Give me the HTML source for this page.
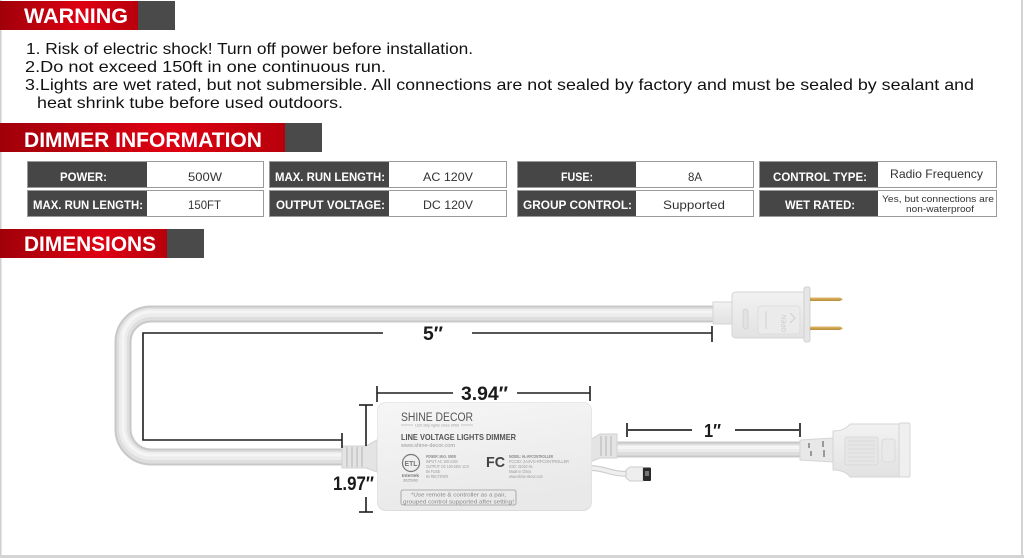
<!DOCTYPE html>
<html><head><meta charset="utf-8"><style>
html,body{margin:0;padding:0;background:#fff;}
body{width:1024px;height:558px;overflow:hidden;position:relative;}
svg{position:absolute;left:0;top:0;}
text{font-family:"Liberation Sans",Arial,sans-serif;}
</style></head><body>
<svg width="1024" height="558" viewBox="0 0 1024 558" xmlns="http://www.w3.org/2000/svg">
<defs>
<linearGradient id="red" x1="0" x2="1" y1="0" y2="0">
<stop offset="0" stop-color="#a0000a"/><stop offset="0.6" stop-color="#de0012"/><stop offset="1" stop-color="#b8000c"/>
</linearGradient>
<linearGradient id="box" x1="0" x2="0.3" y1="0" y2="1">
<stop offset="0" stop-color="#f6f6f6"/><stop offset="1" stop-color="#e9e9e9"/>
</linearGradient>
<linearGradient id="plug" x1="0" x2="0" y1="0" y2="1">
<stop offset="0" stop-color="#f2f2f2"/><stop offset="1" stop-color="#e2e2e2"/>
</linearGradient>
<linearGradient id="gold" x1="0" x2="0" y1="0" y2="1">
<stop offset="0" stop-color="#e0bb6a"/><stop offset="1" stop-color="#b88a3a"/>
</linearGradient>
</defs>

<!-- page borders -->
<rect x="0" y="0" width="1.5" height="558" fill="#cfcfcf"/>
<rect x="1021" y="0" width="2" height="558" fill="#d4d4d4"/>
<rect x="0" y="555" width="1024" height="3" fill="#d4d4d4"/>

<!-- WARNING banner -->
<rect x="0" y="1" width="138" height="29" fill="url(#red)"/>
<rect x="138" y="1" width="37" height="29" fill="#4a4a4a"/>
<text x="24" y="23" font-size="21" font-weight="bold" fill="#fff" textLength="104" lengthAdjust="spacingAndGlyphs">WARNING</text>

<g font-size="16" fill="#111">
<text x="26" y="54" textLength="447" lengthAdjust="spacingAndGlyphs">1. Risk of electric shock! Turn off power before installation.</text>
<text x="25" y="72" textLength="361" lengthAdjust="spacingAndGlyphs">2.Do not exceed 150ft in one continuous run.</text>
<text x="25" y="90" textLength="949" lengthAdjust="spacingAndGlyphs">3.Lights are wet rated, but not submersible. All connections are not sealed by factory and must be sealed by sealant and</text>
<text x="37" y="108" textLength="306" lengthAdjust="spacingAndGlyphs">heat shrink tube before used outdoors.</text>
</g>

<!-- DIMMER INFORMATION banner -->
<rect x="0" y="123" width="285" height="29" fill="url(#red)"/>
<rect x="285" y="123" width="37" height="29" fill="#4a4a4a"/>
<text x="24" y="147" font-size="21" font-weight="bold" fill="#fff" textLength="238" lengthAdjust="spacingAndGlyphs">DIMMER INFORMATION</text>

<!-- table -->
<g stroke="#9a9a9a" stroke-width="1">
<rect x="27.5" y="161.5" width="236" height="26" fill="#fff"/>
<rect x="27.5" y="190.5" width="236" height="26" fill="#fff"/>
<rect x="269.5" y="161.5" width="237" height="26" fill="#fff"/>
<rect x="269.5" y="190.5" width="237" height="26" fill="#fff"/>
<rect x="517.5" y="161.5" width="236" height="26" fill="#fff"/>
<rect x="517.5" y="190.5" width="236" height="26" fill="#fff"/>
<rect x="759.5" y="161.5" width="237" height="26" fill="#fff"/>
<rect x="759.5" y="190.5" width="237" height="26" fill="#fff"/>
</g>
<g fill="#464646">
<rect x="28" y="162" width="119" height="25"/>
<rect x="28" y="191" width="119" height="25"/>
<rect x="270" y="162" width="119" height="25"/>
<rect x="270" y="191" width="119" height="25"/>
<rect x="518" y="162" width="118" height="25"/>
<rect x="518" y="191" width="118" height="25"/>
<rect x="760" y="162" width="118" height="25"/>
<rect x="760" y="191" width="118" height="25"/>
</g>
<g font-size="12" fill="#fff" font-weight="bold">
<text x="60" y="181" textLength="47" lengthAdjust="spacingAndGlyphs">POWER:</text>
<text x="33" y="209" textLength="110" lengthAdjust="spacingAndGlyphs">MAX. RUN LENGTH:</text>
<text x="275" y="181" textLength="110" lengthAdjust="spacingAndGlyphs">MAX. RUN LENGTH:</text>
<text x="276" y="209" textLength="109" lengthAdjust="spacingAndGlyphs">OUTPUT VOLTAGE:</text>
<text x="561" y="181" textLength="32" lengthAdjust="spacingAndGlyphs">FUSE:</text>
<text x="523" y="209" textLength="109" lengthAdjust="spacingAndGlyphs">GROUP CONTROL:</text>
<text x="773" y="181" textLength="94" lengthAdjust="spacingAndGlyphs">CONTROL TYPE:</text>
<text x="785" y="209" textLength="70" lengthAdjust="spacingAndGlyphs">WET RATED:</text>
</g>
<g font-size="12" fill="#333">
<text x="188" y="181" textLength="34" lengthAdjust="spacingAndGlyphs">500W</text>
<text x="188" y="209" textLength="33" lengthAdjust="spacingAndGlyphs">150FT</text>
<text x="423" y="181" textLength="50" lengthAdjust="spacingAndGlyphs">AC 120V</text>
<text x="423" y="209" textLength="50" lengthAdjust="spacingAndGlyphs">DC 120V</text>
<text x="688" y="181" textLength="14" lengthAdjust="spacingAndGlyphs">8A</text>
<text x="663" y="209" textLength="62" lengthAdjust="spacingAndGlyphs">Supported</text>
<text x="890" y="178" textLength="93" lengthAdjust="spacingAndGlyphs">Radio Frequency</text>
<text x="882" y="202" font-size="9.5" textLength="112" lengthAdjust="spacingAndGlyphs">Yes, but connections are</text>
<text x="906" y="212" font-size="9.5" textLength="68" lengthAdjust="spacingAndGlyphs">non-waterproof</text>
</g>

<!-- DIMENSIONS banner -->
<rect x="0" y="229" width="167" height="29" fill="url(#red)"/>
<rect x="167" y="229" width="37" height="29" fill="#4a4a4a"/>
<text x="24" y="251" font-size="21" font-weight="bold" fill="#fff" textLength="132" lengthAdjust="spacingAndGlyphs">DIMENSIONS</text>

<!-- U cable -->
<g fill="none" stroke-linecap="butt">
<path d="M716 314 H151 A28 28 0 0 0 123 342 V429 A28 28 0 0 0 151 457 H346" stroke="#c8c8c8" stroke-width="17"/>
<path d="M716 314 H151 A28 28 0 0 0 123 342 V429 A28 28 0 0 0 151 457 H346" stroke="#dedede" stroke-width="13"/>
<path d="M716 313 H151 A28 28 0 0 0 123 342 V429 A28 28 0 0 0 151 456 H346" stroke="#ececec" stroke-width="8"/>
<path d="M716 312 H151 A28 28 0 0 0 123 342 V429 A28 28 0 0 0 151 455 H346" stroke="#f5f5f5" stroke-width="3"/>
<!-- right cable -->
<path d="M612 449.5 H804" stroke="#c8c8c8" stroke-width="16"/>
<path d="M612 449.5 H804" stroke="#dedede" stroke-width="12"/>
<path d="M612 448.5 H804" stroke="#ececec" stroke-width="7"/>
<path d="M612 447.5 H804" stroke="#f5f5f5" stroke-width="3"/>
<!-- small cable -->
<path d="M590 468 C605 468 610 474 628 474" stroke="#cfcfcf" stroke-width="6"/>
<path d="M590 468 C605 468 610 474 628 474" stroke="#efefef" stroke-width="3.5"/>
</g>

<!-- small connector -->
<path d="M626 470 L630 467 H643 V481 H630 L626 478 Z" fill="#eeeeee" stroke="#cccccc" stroke-width="1"/>
<rect x="643" y="467.5" width="8" height="13.5" rx="1" fill="#2a2a2a"/>
<rect x="645" y="471" width="4" height="5" fill="#777"/>

<!-- left strain relief -->
<path d="M342 446 H366 L377 440 V472 L366 468 H342 Z" fill="#e4e4e4" stroke="#d2d2d2" stroke-width="1"/>
<g stroke="#c4c4c4" stroke-width="1.5">
<line x1="347" y1="447" x2="347" y2="467"/><line x1="352" y1="447" x2="352" y2="467"/>
<line x1="357" y1="447" x2="357" y2="467"/><line x1="362" y1="447" x2="362" y2="467"/>
</g>

<!-- right strain relief -->
<path d="M590 440 L600 434 H617 V458 H600 L590 462 Z" fill="#e4e4e4" stroke="#d2d2d2" stroke-width="1"/>
<g stroke="#c4c4c4" stroke-width="1.5">
<line x1="601" y1="436" x2="601" y2="456"/><line x1="606" y1="436" x2="606" y2="456"/>
<line x1="611" y1="436" x2="611" y2="456"/>
</g>

<!-- dimmer box -->
<rect x="377" y="402" width="215" height="109" rx="9" fill="#dcdcdc"/>
<rect x="377.5" y="402.5" width="214" height="107.5" rx="9" fill="url(#box)"/>
<text x="401" y="421" font-size="11.5" fill="#555" textLength="72" lengthAdjust="spacingAndGlyphs">SHINE DECOR</text>
<line x1="401" y1="425" x2="413" y2="425" stroke="#999" stroke-width="0.5"/>
<line x1="461" y1="425" x2="473" y2="425" stroke="#999" stroke-width="0.5"/>
<text x="415" y="426.5" font-size="3.6" fill="#999" textLength="44" lengthAdjust="spacingAndGlyphs">LED strip lights since 2003</text>
<text x="401" y="440" font-size="8.2" font-weight="bold" fill="#555" textLength="115" lengthAdjust="spacingAndGlyphs">LINE VOLTAGE LIGHTS DIMMER</text>
<text x="401" y="447" font-size="5" fill="#999" textLength="54" lengthAdjust="spacingAndGlyphs">www.shine-decor.com</text>
<circle cx="411" cy="463" r="8.5" fill="none" stroke="#777" stroke-width="1.2"/>
<text x="404.5" y="466" font-size="7" font-weight="bold" fill="#777" textLength="13" lengthAdjust="spacingAndGlyphs">ETL</text>
<text x="402" y="477" font-size="4.3" font-weight="bold" fill="#777" textLength="17" lengthAdjust="spacingAndGlyphs">Intertek</text>
<text x="403" y="481.5" font-size="3.5" fill="#888" textLength="15" lengthAdjust="spacingAndGlyphs">3025963</text>
<g font-size="4.2" fill="#999">
<text x="426" y="458" font-weight="bold" fill="#888" textLength="30" lengthAdjust="spacingAndGlyphs">POWER: MAX. 500W</text>
<text x="426" y="463" textLength="32" lengthAdjust="spacingAndGlyphs">INPUT: AC 100-240V</text>
<text x="426" y="468" textLength="43" lengthAdjust="spacingAndGlyphs">OUTPUT: DC 100-240V 1CH</text>
<text x="426" y="473" textLength="14" lengthAdjust="spacingAndGlyphs">8A FUSE</text>
<text x="426" y="478" textLength="22" lengthAdjust="spacingAndGlyphs">8A RECTIFIER</text>
</g>
<text x="486" y="467" font-size="15" font-weight="bold" fill="#444" textLength="19" lengthAdjust="spacingAndGlyphs">FC</text>
<g font-size="4.2" fill="#999">
<text x="509" y="458" font-weight="bold" fill="#888" textLength="44" lengthAdjust="spacingAndGlyphs">MODEL: HL-RFCONTROLLER</text>
<text x="509" y="463" textLength="60" lengthAdjust="spacingAndGlyphs">FCCID: 2A4VG-RFCONTROLLER</text>
<text x="509" y="468" textLength="24" lengthAdjust="spacingAndGlyphs">ICID: 31010-HL</text>
<text x="509" y="473" textLength="22" lengthAdjust="spacingAndGlyphs">Made in China</text>
<text x="509" y="478" textLength="34" lengthAdjust="spacingAndGlyphs">www.shine-decor.com</text>
</g>
<rect x="401" y="490" width="115" height="15" rx="2" fill="none" stroke="#999" stroke-width="0.8"/>
<text x="411" y="496.5" font-size="5.5" fill="#888" textLength="95" lengthAdjust="spacingAndGlyphs">*Use remote &amp; controller as a pair,</text>
<text x="403" y="503.5" font-size="5.5" fill="#888" textLength="111" lengthAdjust="spacingAndGlyphs">grouped control supported after setting!</text>

<!-- plug top right -->
<rect x="713" y="302" width="20" height="22" fill="url(#plug)" stroke="#d4d4d4" stroke-width="1"/>
<path d="M732 296 Q732 292 737 292 H804 V338 H737 Q732 338 732 334 Z" fill="url(#plug)" stroke="#d4d4d4" stroke-width="1"/>
<rect x="804" y="287" width="6" height="55" rx="2" fill="#e6e6e6" stroke="#d0d0d0" stroke-width="1"/>
<rect x="743" y="309" width="5" height="20" rx="2.5" fill="#e2e2e2" stroke="#d0d0d0" stroke-width="0.8"/>
<rect x="758" y="306" width="42" height="28" rx="3" fill="#ebebeb" stroke="#dadada" stroke-width="0.8"/>
<line x1="766" y1="311" x2="766" y2="329" stroke="#d2d2d2" stroke-width="1"/>
<text transform="translate(786 332) rotate(-90)" font-size="6" fill="#c8c8c8">OPEN</text>
<path d="M790 313 L795 318 L790 323" fill="none" stroke="#cfcfcf" stroke-width="1"/>
<path d="M810 297.5 H840 L843 299.2 L840 301 H810 Z" fill="url(#gold)"/>
<path d="M810 326.5 H840 L843 328.2 L840 330 H810 Z" fill="url(#gold)"/>

<!-- socket bottom right -->
<path d="M800 440 L833 438 V462 L800 460 Z" fill="#e8e8e8" stroke="#d4d4d4" stroke-width="1"/>
<g fill="#9a9a9a">
<rect x="808" y="443" width="2" height="5"/><rect x="810" y="451" width="2" height="5"/>
<rect x="822" y="441" width="2" height="6"/><rect x="823" y="450" width="2" height="7"/>
</g>
<path d="M833 431 Q845 431 850 424 H907 V477 H850 Q845 470 833 470 Z" fill="url(#plug)" stroke="#d4d4d4" stroke-width="1"/>
<rect x="899" y="423" width="11" height="54" rx="1.5" fill="#efefef" stroke="#d6d6d6" stroke-width="1"/>
<rect x="845" y="437" width="33" height="28" rx="2" fill="#e6e6e6" stroke="#d6d6d6" stroke-width="0.8"/>
<g stroke="#d6d6d6" stroke-width="0.8">
<line x1="848" y1="441" x2="875" y2="441"/><line x1="848" y1="445" x2="875" y2="445"/>
<line x1="848" y1="449" x2="875" y2="449"/><line x1="848" y1="453" x2="875" y2="453"/>
<line x1="848" y1="457" x2="875" y2="457"/><line x1="848" y1="461" x2="875" y2="461"/>
</g>
<rect x="882" y="439" width="13" height="23" rx="3" fill="#e9e9e9" stroke="#d6d6d6" stroke-width="0.8"/>

<!-- dimension lines -->
<g stroke="#1e1e1e" stroke-width="1.6" fill="none">
<path d="M383 333 H143 V440 H342"/>
<path d="M472 333 H712"/>
<path d="M712 326 V342"/>
<path d="M342 433 V448"/>
<path d="M377 386 V402"/>
<path d="M377 393 H453"/>
<path d="M517 393 H590"/>
<path d="M590 386 V401"/>
<path d="M359 405 H373"/>
<path d="M366 405 V446"/>
<path d="M366 497 V512"/>
<path d="M359 512 H373"/>
</g>
<g stroke="#444" stroke-width="2" fill="none">
<path d="M627 423 V437"/>
<path d="M627 430 H692"/>
<path d="M735 430 H800"/>
<path d="M800 423 V437"/>
</g>
<g font-weight="bold" fill="#1a1a1a">
<text x="423" y="340" font-size="19" textLength="20" lengthAdjust="spacingAndGlyphs">5″</text>
<text x="461" y="400" font-size="19" textLength="47" lengthAdjust="spacingAndGlyphs">3.94″</text>
<text x="333" y="490" font-size="19" textLength="41" lengthAdjust="spacingAndGlyphs">1.97″</text>
<text x="704" y="437" font-size="18" textLength="17" lengthAdjust="spacingAndGlyphs">1″</text>
</g>
</svg>
</body></html>
